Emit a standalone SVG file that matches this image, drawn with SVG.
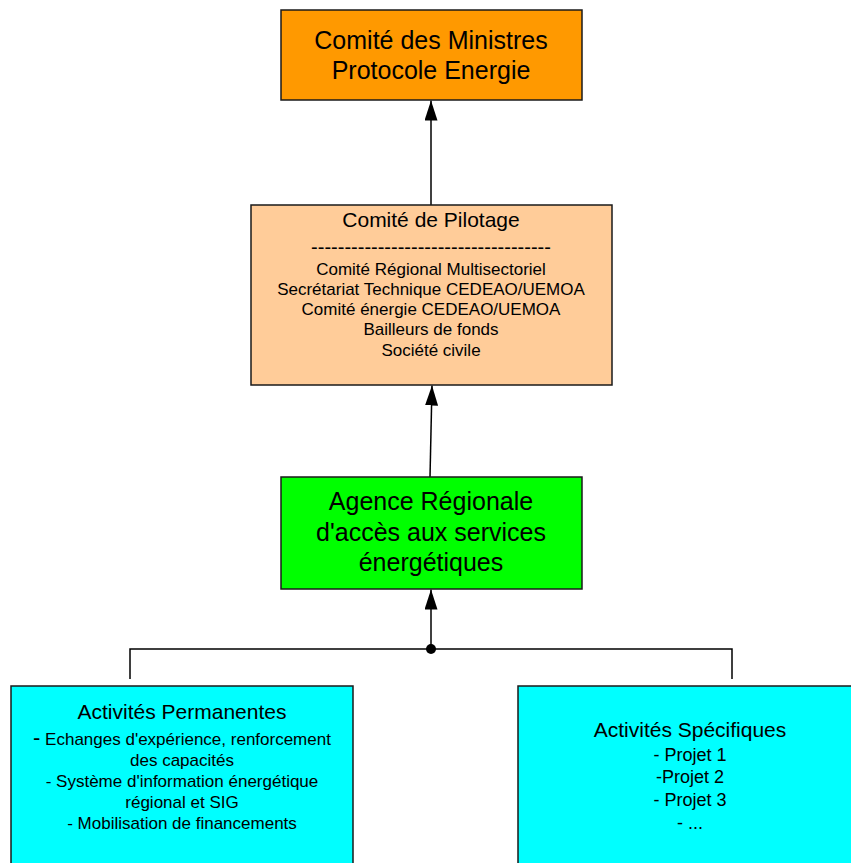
<svg xmlns="http://www.w3.org/2000/svg" width="851" height="863" viewBox="0 0 851 863">
<defs>
<style>
.box{stroke:#1a1a1a;stroke-width:1.5}
.t{font-family:"Liberation Sans",Arial,sans-serif;fill:#000;text-anchor:middle}
.big{font-size:25px}
.ttl{font-size:21px}
.sm{font-size:17px}
.md{font-size:18px}
.con{stroke:#000;stroke-width:1.5;fill:none}
</style>
<marker id="arr" viewBox="0 0 20 13" refX="20" refY="6.5" markerWidth="20" markerHeight="13" markerUnits="userSpaceOnUse" orient="auto">
<path d="M0,0 L20,6.5 L0,13 Z" fill="#000"/>
</marker>
</defs>
<rect width="851" height="863" fill="#fff"/>
<g id="connectors">
<line class="con" x1="431" y1="205" x2="431" y2="100.5" marker-end="url(#arr)"/>
<line class="con" x1="430" y1="477" x2="432" y2="385.5" marker-end="url(#arr)"/>
<line class="con" x1="431" y1="649" x2="431" y2="589.5" marker-end="url(#arr)"/>
<path class="con" d="M130,679 L130,649 L732,649 L732,679"/>
<circle cx="431" cy="649" r="5" fill="#000"/>
</g>
<g id="ministres">
<rect class="box" x="281" y="10" width="301" height="90" fill="#FF9900"/>
<text class="t big" x="431" y="49">Comité des Ministres</text>
<text class="t big" x="431" y="79">Protocole Energie</text>
</g>
<g id="pilotage">
<rect class="box" x="251" y="205" width="361" height="180" fill="#FFCC99"/>
<text class="t ttl" x="431" y="227">Comité de Pilotage</text>
<text class="t" x="431" y="254" font-size="20px">------------------------------------</text>
<text class="t sm" x="431" y="275">Comité Régional Multisectoriel</text>
<text class="t sm" x="431" y="295">Secrétariat Technique CEDEAO/UEMOA</text>
<text class="t sm" x="431" y="315">Comité énergie CEDEAO/UEMOA</text>
<text class="t sm" x="431" y="335">Bailleurs de fonds</text>
<text class="t sm" x="431" y="356">Société civile</text>
</g>
<g id="agence">
<rect class="box" x="281" y="477" width="301" height="112" fill="#00FF00"/>
<text class="t big" x="431" y="510">Agence Régionale</text>
<text class="t big" x="431" y="541">d'accès aux services</text>
<text class="t big" x="431" y="571">énergétiques</text>
</g>
<g id="permanentes">
<rect class="box" x="11" y="686" width="342" height="190" fill="#00FFFF"/>
<text class="t ttl" x="182" y="719">Activités Permanentes</text>
<text class="t sm" x="182" y="745"><tspan font-size="22px">-</tspan> Echanges d'expérience, renforcement</text>
<text class="t sm" x="182" y="766">des capacités</text>
<text class="t sm" x="182" y="787">- Système d'information énergétique</text>
<text class="t sm" x="182" y="808">régional et SIG</text>
<text class="t sm" x="182" y="829">- Mobilisation de financements</text>
</g>
<g id="specifiques">
<rect class="box" x="518" y="686" width="344" height="190" fill="#00FFFF"/>
<text class="t ttl" x="690" y="737">Activités Spécifiques</text>
<text class="t md" x="690" y="761">- Projet 1</text>
<text class="t md" x="690" y="783">-Projet 2</text>
<text class="t md" x="690" y="806">- Projet 3</text>
<text class="t md" x="690" y="829">- ...</text>
</g>
</svg>
